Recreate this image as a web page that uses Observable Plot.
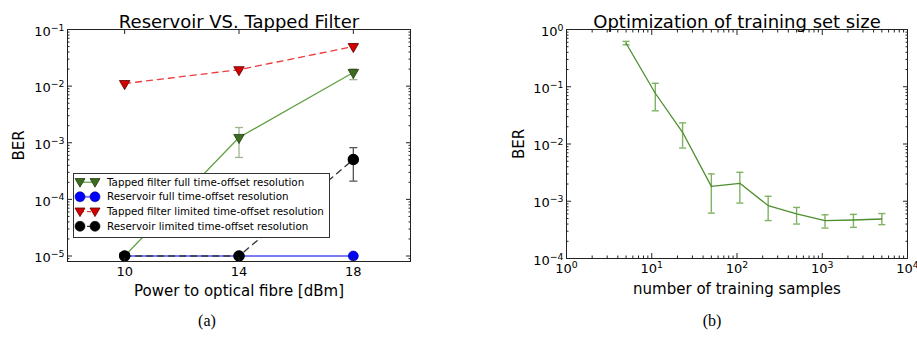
<!DOCTYPE html>
<html><head><meta charset="utf-8">
<script src="https://cdn.jsdelivr.net/npm/d3@7"></script>
<script src="https://cdn.jsdelivr.net/npm/@observablehq/plot@0.6"></script>
<style>
html,body{margin:0;padding:0;background:#fff;}
#wrap{position:relative;width:917px;height:346px;overflow:hidden;font-family:"DejaVu Sans",sans-serif;background:#fff;}
.panel{position:absolute;top:0;}
.cap{position:absolute;top:312px;font-family:"Liberation Serif",serif;font-size:16px;transform:translateX(-50%);color:#000;}
.legend{position:absolute;left:73px;top:173px;width:255px;height:63px;border:1px solid #333;background:#fff;}
.legend .row{position:absolute;left:33px;font-size:10.3px;line-height:12px;white-space:nowrap;color:#000;}
.legend svg{position:absolute;left:0;top:0;}
</style>
</head><body><div id="wrap"></div>
<script>
// ---------- data: panel (a) ----------
const powers = [10, 14, 18];
const tappedFull = [1e-5, 1.24e-3, 1.74e-2];
const tappedFullLo = [null, 5.5e-4, 1.3e-2];
const tappedFullHi = [null, 1.86e-3, 2.0e-2];
const reservoirFull = [1e-5, 1e-5, 1e-5];
const tappedLimited = [1.11e-2, 1.95e-2, 5.0e-2];
const reservoirLimited = [1e-5, 1e-5, 5.05e-4];
const reservoirLimitedLo = [null, null, 2.1e-4];
const reservoirLimitedHi = [null, null, 8.2e-4];
const powerTicks = [10, 14, 18];
const leftYTicks = [1e-5, 1e-4, 1e-3, 1e-2, 1e-1];
const legendLabels = [
  "Tapped filter full time-offset resolution",
  "Reservoir full time-offset resolution",
  "Tapped filter limited time-offset resolution",
  "Reservoir limited time-offset resolution"
];
const titleA = "Reservoir VS. Tapped Filter";
const xLabelA = "Power to optical fibre [dBm]";

// ---------- data: panel (b) ----------
const samples = [5, 11, 23, 50, 108, 232, 500, 1077, 2321, 5000];
const trainBER = [0.575, 0.077, 0.016, 1.82e-3, 2.06e-3, 8.4e-4, 6.0e-4, 4.6e-4, 4.7e-4, 4.9e-4];
const trainLo = [0.54, 0.038, 0.0085, 6.2e-4, 9.3e-4, 4.6e-4, 4.0e-4, 3.4e-4, 3.5e-4, 3.9e-4];
const trainHi = [0.62, 0.115, 0.0234, 3.0e-3, 3.2e-3, 1.22e-3, 7.8e-4, 5.8e-4, 5.9e-4, 6.1e-4];
const rightXTicks = [1, 10, 100, 1000, 10000];
const rightYTicks = [1e-4, 1e-3, 1e-2, 1e-1, 1];
const titleB = "Optimization of training set size";
const xLabelB = "number of training samples";
const yLabel = "BER";

// ---------- helpers ----------
function minorTicks(e0, e1) { const t = []; for (let e = e0; e < e1; e++) for (let m = 2; m < 10; m++) t.push(m * Math.pow(10, e)); return t; }
const powFmt = d => "10^" + String(Math.round(Math.log10(d))).replace("-", "\u2212");
const cap = {draw(ctx, size) { const w = Math.sqrt(size / Math.PI); ctx.moveTo(-w, 0); ctx.lineTo(w, 0); }};
const FR = "#222";

function inTicks(axis, anchor, ticks, size) {
  const o = {anchor, ticks, tickSize: size, fill: "none", stroke: FR, tickFormat: () => "", label: null};
  if (anchor === "left") o.dx = size;
  if (anchor === "right") o.dx = -size;
  if (anchor === "bottom") o.dy = -size;
  if (anchor === "top") o.dy = size;
  return axis(o);
}
function supify(svg) {
  d3.select(svg).selectAll('g[aria-label$="tick label"] text').each(function () {
    const m = this.textContent.match(/^10\^(.+)$/);
    if (!m) return;
    this.textContent = "10";
    d3.select(this).append("tspan").attr("dy", "-0.55em").attr("font-size", "0.72em").text(m[1]);
  });
}

const wrap = document.getElementById("wrap");

// ---------- panel (a) ----------
const tf = powers.map((p, i) => ({x: p, y: tappedFull[i], lo: tappedFullLo[i], hi: tappedFullHi[i]}));
const rf = powers.map((p, i) => ({x: p, y: reservoirFull[i]}));
const tl = powers.map((p, i) => ({x: p, y: tappedLimited[i]}));
const rl = powers.map((p, i) => ({x: p, y: reservoirLimited[i], lo: reservoirLimitedLo[i], hi: reservoirLimitedHi[i]}));
const tfE = tf.filter(d => d.lo != null), rlE = rl.filter(d => d.lo != null);

const plotA = Plot.plot({
  width: 460, height: 310, marginLeft: 67, marginRight: 50, marginTop: 29, marginBottom: 49,
  x: {domain: [8, 20]},
  y: {type: "log", domain: [8e-6, 0.1]},
  style: {fontFamily: "DejaVu Sans", background: "transparent", color: "#000"},
  marks: [
    // green: tapped filter full
    Plot.ruleX(tfE, {x: "x", y1: "lo", y2: "hi", stroke: "#9fb58f", strokeWidth: 1.3}),
    Plot.dot(tfE, {x: "x", y: "lo", symbol: cap, r: 4, stroke: "#9fb58f", strokeWidth: 1.3}),
    Plot.dot(tfE, {x: "x", y: "hi", symbol: cap, r: 4, stroke: "#9fb58f", strokeWidth: 1.3}),
    Plot.line(tf, {x: "x", y: "y", stroke: "#5e9e3e", strokeWidth: 1.2}),
    Plot.dot(tf, {x: "x", y: "y", symbol: "triangle", rotate: 180, r: 3.9, fill: "#3d6b1f", stroke: "#1e3a0e", strokeWidth: 0.8}),
    // blue: reservoir full
    Plot.line(rf, {x: "x", y: "y", stroke: "#7b7bf5", strokeWidth: 2}),
    Plot.dot(rf, {x: "x", y: "y", r: 5, fill: "#0000ff", stroke: "#000080", strokeWidth: 0.6}),
    // red: tapped filter limited
    Plot.line(tl, {x: "x", y: "y", stroke: "#ee3b3b", strokeWidth: 1.3, strokeDasharray: "6,5"}),
    Plot.dot(tl, {x: "x", y: "y", symbol: "triangle", rotate: 180, r: 3.9, fill: "#d40000", stroke: "#5a0000", strokeWidth: 0.8}),
    // black: reservoir limited
    Plot.line(rl, {x: "x", y: "y", stroke: "#333", strokeWidth: 1.3, strokeDasharray: "6,5"}),
    Plot.ruleX(rlE, {x: "x", y1: "lo", y2: "hi", stroke: "#555", strokeWidth: 1.3}),
    Plot.dot(rlE, {x: "x", y: "lo", symbol: cap, r: 4, stroke: "#555", strokeWidth: 1.3}),
    Plot.dot(rlE, {x: "x", y: "hi", symbol: cap, r: 4, stroke: "#555", strokeWidth: 1.3}),
    Plot.dot(rl, {x: "x", y: "y", r: 5, fill: "#000", stroke: "#000"}),
    // frame & ticks
    Plot.frame({stroke: FR}),
    inTicks(Plot.axisX, "bottom", powerTicks, 4),
    inTicks(Plot.axisX, "top", powerTicks, 4),
    inTicks(Plot.axisY, "left", leftYTicks, 5),
    inTicks(Plot.axisY, "right", leftYTicks, 5),
    inTicks(Plot.axisY, "left", minorTicks(-6, -1).filter(v => v >= 8e-6), 2.5),
    inTicks(Plot.axisY, "right", minorTicks(-6, -1).filter(v => v >= 8e-6), 2.5),
    Plot.axisX({ticks: powerTicks, tickSize: 0, tickPadding: 5, fontSize: 13, tickFormat: d => String(d), label: null}),
    Plot.axisY({ticks: leftYTicks, tickSize: 0, tickPadding: 3, dy: 2, fontSize: 13, tickFormat: powFmt, label: null}),
    Plot.axisX({ticks: [], tickSize: 0, label: xLabelA, labelAnchor: "center", labelOffset: 34, labelArrow: "none", fontSize: 15}),
    Plot.axisY({ticks: [], tickSize: 0, label: yLabel, labelAnchor: "center", labelOffset: 54, labelArrow: "none", fontSize: 15}),
    Plot.text([titleA], {text: d => d, frameAnchor: "top", dy: -14, fontSize: 18})
  ]
});
supify(plotA);
plotA.classList.add("panel");
plotA.style.left = "0px";
wrap.appendChild(plotA);

// ---------- panel (b) ----------
const tr = samples.map((s, i) => ({x: s, y: trainBER[i], lo: trainLo[i], hi: trainHi[i]}));
const plotB = Plot.plot({
  width: 457, height: 310, marginLeft: 106, marginRight: 10, marginTop: 29, marginBottom: 52,
  x: {type: "log", domain: [1, 1e4]},
  y: {type: "log", domain: [1e-4, 1]},
  style: {fontFamily: "DejaVu Sans", background: "transparent", color: "#000", overflow: "visible"},
  marks: [
    Plot.ruleX(tr, {x: "x", y1: "lo", y2: "hi", stroke: "#7fb263", strokeWidth: 1.4}),
    Plot.dot(tr, {x: "x", y: "lo", symbol: cap, r: 3.5, stroke: "#7fb263", strokeWidth: 1.4}),
    Plot.dot(tr, {x: "x", y: "hi", symbol: cap, r: 3.5, stroke: "#7fb263", strokeWidth: 1.4}),
    Plot.line(tr, {x: "x", y: "y", stroke: "#4f8e2e", strokeWidth: 1.3}),
    Plot.frame({stroke: FR}),
    inTicks(Plot.axisX, "bottom", rightXTicks, 5),
    inTicks(Plot.axisX, "top", rightXTicks, 5),
    inTicks(Plot.axisX, "bottom", minorTicks(0, 4), 2.5),
    inTicks(Plot.axisX, "top", minorTicks(0, 4), 2.5),
    inTicks(Plot.axisY, "left", rightYTicks, 5),
    inTicks(Plot.axisY, "right", rightYTicks, 5),
    inTicks(Plot.axisY, "left", minorTicks(-4, 0), 2.5),
    inTicks(Plot.axisY, "right", minorTicks(-4, 0), 2.5),
    Plot.axisX({ticks: rightXTicks, tickSize: 0, tickPadding: 5, fontSize: 13, tickFormat: powFmt, label: null}),
    Plot.axisY({ticks: rightYTicks, tickSize: 0, tickPadding: 3, dy: 2, fontSize: 13, tickFormat: powFmt, label: null}),
    Plot.axisX({ticks: [], tickSize: 0, label: xLabelB, labelAnchor: "center", labelOffset: 35, labelArrow: "none", fontSize: 15}),
    Plot.axisY({ticks: [], tickSize: 0, label: yLabel, labelAnchor: "center", labelOffset: 53, labelArrow: "none", fontSize: 15}),
    Plot.text([titleB], {text: d => d, frameAnchor: "top", dy: -14, fontSize: 18})
  ]
});
supify(plotB);
plotB.classList.add("panel");
plotB.style.left = "460px";
wrap.appendChild(plotB);

// ---------- legend for panel (a) ----------
const leg = document.createElement("div");
leg.className = "legend";
const ns = "http://www.w3.org/2000/svg";
const lsvg = document.createElementNS(ns, "svg");
lsvg.setAttribute("width", "32"); lsvg.setAttribute("height", "63");
const rowsY = [8.2, 22.8, 37.6, 52.3];
const legStyles = [
  {line: "#5e9e3e", dash: null, w: 1.2, shape: "tri", fill: "#3d6b1f", edge: "#1e3a0e"},
  {line: "#7b7bf5", dash: null, w: 2, shape: "circ", fill: "#0000ff", edge: "#000080"},
  {line: "#ee3b3b", dash: "4,3", w: 1.3, shape: "tri", fill: "#d40000", edge: "#5a0000"},
  {line: "#333", dash: "4,3", w: 1.3, shape: "circ", fill: "#000", edge: "#000"}
];
let html = "";
legStyles.forEach((s, i) => {
  const y = rowsY[i];
  html += `<line x1="6" x2="21" y1="${y}" y2="${y}" stroke="${s.line}" stroke-width="${s.w}"${s.dash ? ` stroke-dasharray="${s.dash}"` : ""}/>`;
  [6, 21].forEach(cx => {
    if (s.shape === "tri") html += `<path d="M${cx - 5},${y - 3.6}L${cx + 5},${y - 3.6}L${cx},${y + 5}Z" fill="${s.fill}" stroke="${s.edge}" stroke-width="0.8"/>`;
    else html += `<circle cx="${cx}" cy="${y}" r="5" fill="${s.fill}" stroke="${s.edge}" stroke-width="0.6"/>`;
  });
});
lsvg.innerHTML = html;
leg.appendChild(lsvg);
legendLabels.forEach((t, i) => {
  const r = document.createElement("div");
  r.className = "row";
  r.style.top = (rowsY[i] - 6.5) + "px";
  r.textContent = t;
  leg.appendChild(r);
});
wrap.appendChild(leg);

// ---------- captions ----------
[["(a)", 207], ["(b)", 712]].forEach(([t, x]) => {
  const c = document.createElement("div");
  c.className = "cap"; c.style.left = x + "px"; c.textContent = t;
  wrap.appendChild(c);
});
</script>
</body></html>
